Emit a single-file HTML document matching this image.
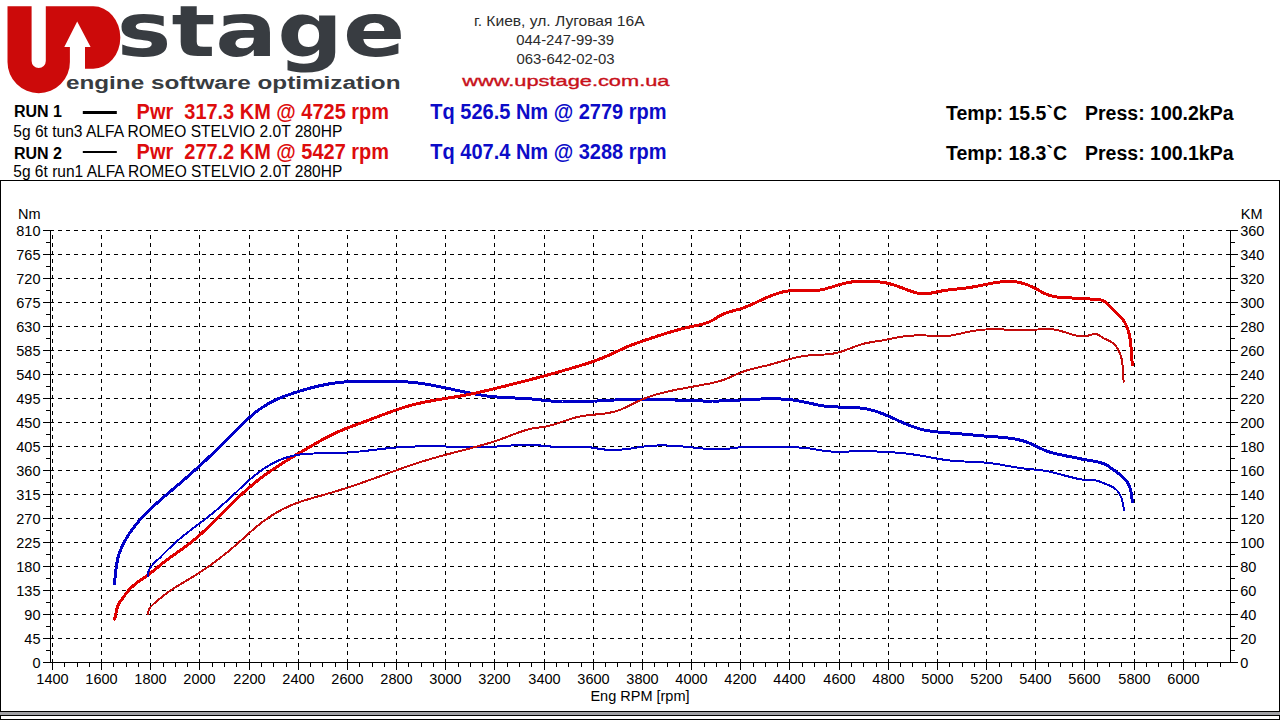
<!DOCTYPE html>
<html><head><meta charset="utf-8"><title>Upstage dyno</title>
<style>
html,body{margin:0;padding:0;background:#fff;width:1280px;height:720px;overflow:hidden}
svg{display:block}
text{font-family:'Liberation Sans', Arial, sans-serif}
</style></head><body>
<svg width="1280" height="720" viewBox="0 0 1280 720">
<rect x="0" y="0" width="1280" height="720" fill="#fff"/>
<g id="logo">
<path fill="#cc0a0a" d="M7.5,6.3 H31.6 V61 A7.1,7.1 0 0 0 45.8,61 V6.3 H93.3 A27,31.2 0 0 1 93.3,68.75 H69.9 V62 A31.2,31.2 0 0 1 7.5,62 Z"/>
<path fill="#fff" d="M77.2,21.4 L64.3,47 H69.9 V70 H85 V47 H90.6 Z"/>
<clipPath id="cs"><rect x="100" y="6.3" width="320" height="80"/></clipPath>
<text clip-path="url(#cs)" x="116.8" y="55.5" font-size="74.6" font-weight="bold" fill="#383c41" style="font-family:'DejaVu Sans',sans-serif" textLength="288.5" lengthAdjust="spacingAndGlyphs">stage</text>
<text x="65.9" y="89" font-size="17.5" font-weight="bold" fill="#383c41" textLength="334.6" lengthAdjust="spacingAndGlyphs">engine software optimization</text>
</g>
<g fill="#2c2c2c" font-size="14.4">
<text x="473.9" y="26.3" textLength="170.7" lengthAdjust="spacingAndGlyphs">г. Киев, ул. Луговая 16А</text>
<text x="516.3" y="44.5" font-size="14.6" textLength="97.7" lengthAdjust="spacingAndGlyphs">044-247-99-39</text>
<text x="516.5" y="64" font-size="14.6" textLength="98" lengthAdjust="spacingAndGlyphs">063-642-02-03</text>
</g>
<text x="462.2" y="86.3" font-size="14.8" fill="#c8101a" stroke="#c8101a" stroke-width="0.35" textLength="207.3" lengthAdjust="spacingAndGlyphs">www.upstage.com.ua</text>
<g font-weight="bold" font-size="16" fill="#000">
<text x="14" y="116.9">RUN 1</text>
<text x="14" y="159.4">RUN 2</text>
</g>
<rect x="82.8" y="111" width="34" height="3" fill="#000"/>
<rect x="82.8" y="151" width="34" height="2" fill="#000"/>
<g font-size="16" fill="#000">
<text x="13.3" y="136.8" textLength="329" lengthAdjust="spacingAndGlyphs">5g 6t tun3 ALFA ROMEO STELVIO 2.0T 280HP</text>
<text x="13.3" y="176.5" textLength="329" lengthAdjust="spacingAndGlyphs">5g 6t run1 ALFA ROMEO STELVIO 2.0T 280HP</text>
</g>
<g font-weight="bold" font-size="21.4" fill="#dd0c0c">
<text x="136.6" y="119.2" textLength="252.4" lengthAdjust="spacingAndGlyphs">Pwr&#160; 317.3 KM @ 4725 rpm</text>
<text x="136.6" y="159.2" textLength="252.4" lengthAdjust="spacingAndGlyphs">Pwr&#160; 277.2 KM @ 5427 rpm</text>
</g>
<g font-weight="bold" font-size="21.4" fill="#0c0cc8">
<text x="430.3" y="119.2" textLength="236.3" lengthAdjust="spacingAndGlyphs">Tq 526.5 Nm @ 2779 rpm</text>
<text x="430.3" y="159.2" textLength="236.3" lengthAdjust="spacingAndGlyphs">Tq 407.4 Nm @ 3288 rpm</text>
</g>
<g font-weight="bold" font-size="19.5" fill="#000">
<text x="946" y="120">Temp: 15.5`C</text>
<text x="1085" y="120">Press: 100.2kPa</text>
<text x="946" y="160">Temp: 18.3`C</text>
<text x="1085" y="160">Press: 100.1kPa</text>
</g>
<g shape-rendering="crispEdges">
<rect x="0" y="180" width="1280" height="1" fill="#000"/>
<rect x="0" y="180" width="1" height="532" fill="#000"/>
<rect x="1279" y="180" width="1" height="540" fill="#000"/>
<rect x="0" y="711" width="1280" height="1" fill="#000"/>
<rect x="0" y="712" width="1280" height="3" fill="#a0a0a4"/>
<rect x="0" y="715" width="1280" height="1" fill="#000"/>
<rect x="0" y="716" width="1" height="3" fill="#000"/>
<rect x="0" y="719" width="1280" height="1" fill="#000"/>
</g>
<g stroke="#000" stroke-width="1" shape-rendering="crispEdges" fill="none">
<line x1="50" y1="230.5" x2="1230" y2="230.5" stroke-dasharray="4 4"/>
<line x1="50" y1="254.5" x2="1230" y2="254.5" stroke-dasharray="4 4"/>
<line x1="50" y1="278.5" x2="1230" y2="278.5" stroke-dasharray="4 4"/>
<line x1="50" y1="302.5" x2="1230" y2="302.5" stroke-dasharray="4 4"/>
<line x1="50" y1="326.5" x2="1230" y2="326.5" stroke-dasharray="4 4"/>
<line x1="50" y1="350.5" x2="1230" y2="350.5" stroke-dasharray="4 4"/>
<line x1="50" y1="374.5" x2="1230" y2="374.5" stroke-dasharray="4 4"/>
<line x1="50" y1="398.5" x2="1230" y2="398.5" stroke-dasharray="4 4"/>
<line x1="50" y1="422.5" x2="1230" y2="422.5" stroke-dasharray="4 4"/>
<line x1="50" y1="446.5" x2="1230" y2="446.5" stroke-dasharray="4 4"/>
<line x1="50" y1="470.5" x2="1230" y2="470.5" stroke-dasharray="4 4"/>
<line x1="50" y1="494.5" x2="1230" y2="494.5" stroke-dasharray="4 4"/>
<line x1="50" y1="518.5" x2="1230" y2="518.5" stroke-dasharray="4 4"/>
<line x1="50" y1="542.5" x2="1230" y2="542.5" stroke-dasharray="4 4"/>
<line x1="50" y1="566.5" x2="1230" y2="566.5" stroke-dasharray="4 4"/>
<line x1="50" y1="590.5" x2="1230" y2="590.5" stroke-dasharray="4 4"/>
<line x1="50" y1="614.5" x2="1230" y2="614.5" stroke-dasharray="4 4"/>
<line x1="50" y1="638.5" x2="1230" y2="638.5" stroke-dasharray="4 4"/>
<line x1="52.5" y1="663" x2="52.5" y2="230" stroke-dasharray="4 4"/>
<line x1="101.5" y1="663" x2="101.5" y2="230" stroke-dasharray="4 4"/>
<line x1="150.5" y1="663" x2="150.5" y2="230" stroke-dasharray="4 4"/>
<line x1="199.5" y1="663" x2="199.5" y2="230" stroke-dasharray="4 4"/>
<line x1="249.5" y1="663" x2="249.5" y2="230" stroke-dasharray="4 4"/>
<line x1="298.5" y1="663" x2="298.5" y2="230" stroke-dasharray="4 4"/>
<line x1="347.5" y1="663" x2="347.5" y2="230" stroke-dasharray="4 4"/>
<line x1="396.5" y1="663" x2="396.5" y2="230" stroke-dasharray="4 4"/>
<line x1="445.5" y1="663" x2="445.5" y2="230" stroke-dasharray="4 4"/>
<line x1="494.5" y1="663" x2="494.5" y2="230" stroke-dasharray="4 4"/>
<line x1="544.5" y1="663" x2="544.5" y2="230" stroke-dasharray="4 4"/>
<line x1="593.5" y1="663" x2="593.5" y2="230" stroke-dasharray="4 4"/>
<line x1="642.5" y1="663" x2="642.5" y2="230" stroke-dasharray="4 4"/>
<line x1="691.5" y1="663" x2="691.5" y2="230" stroke-dasharray="4 4"/>
<line x1="740.5" y1="663" x2="740.5" y2="230" stroke-dasharray="4 4"/>
<line x1="789.5" y1="663" x2="789.5" y2="230" stroke-dasharray="4 4"/>
<line x1="839.5" y1="663" x2="839.5" y2="230" stroke-dasharray="4 4"/>
<line x1="888.5" y1="663" x2="888.5" y2="230" stroke-dasharray="4 4"/>
<line x1="937.5" y1="663" x2="937.5" y2="230" stroke-dasharray="4 4"/>
<line x1="986.5" y1="663" x2="986.5" y2="230" stroke-dasharray="4 4"/>
<line x1="1035.5" y1="663" x2="1035.5" y2="230" stroke-dasharray="4 4"/>
<line x1="1084.5" y1="663" x2="1084.5" y2="230" stroke-dasharray="4 4"/>
<line x1="1134.5" y1="663" x2="1134.5" y2="230" stroke-dasharray="4 4"/>
<line x1="1183.5" y1="663" x2="1183.5" y2="230" stroke-dasharray="4 4"/>
<line x1="50.5" y1="230" x2="50.5" y2="663"/>
<line x1="1230.5" y1="230" x2="1230.5" y2="663"/>
<line x1="43" y1="662.5" x2="1238" y2="662.5"/>
<line x1="43" y1="230.5" x2="50" y2="230.5"/>
<line x1="1231" y1="230.5" x2="1238" y2="230.5"/>
<line x1="43" y1="254.5" x2="50" y2="254.5"/>
<line x1="1231" y1="254.5" x2="1238" y2="254.5"/>
<line x1="43" y1="278.5" x2="50" y2="278.5"/>
<line x1="1231" y1="278.5" x2="1238" y2="278.5"/>
<line x1="43" y1="302.5" x2="50" y2="302.5"/>
<line x1="1231" y1="302.5" x2="1238" y2="302.5"/>
<line x1="43" y1="326.5" x2="50" y2="326.5"/>
<line x1="1231" y1="326.5" x2="1238" y2="326.5"/>
<line x1="43" y1="350.5" x2="50" y2="350.5"/>
<line x1="1231" y1="350.5" x2="1238" y2="350.5"/>
<line x1="43" y1="374.5" x2="50" y2="374.5"/>
<line x1="1231" y1="374.5" x2="1238" y2="374.5"/>
<line x1="43" y1="398.5" x2="50" y2="398.5"/>
<line x1="1231" y1="398.5" x2="1238" y2="398.5"/>
<line x1="43" y1="422.5" x2="50" y2="422.5"/>
<line x1="1231" y1="422.5" x2="1238" y2="422.5"/>
<line x1="43" y1="446.5" x2="50" y2="446.5"/>
<line x1="1231" y1="446.5" x2="1238" y2="446.5"/>
<line x1="43" y1="470.5" x2="50" y2="470.5"/>
<line x1="1231" y1="470.5" x2="1238" y2="470.5"/>
<line x1="43" y1="494.5" x2="50" y2="494.5"/>
<line x1="1231" y1="494.5" x2="1238" y2="494.5"/>
<line x1="43" y1="518.5" x2="50" y2="518.5"/>
<line x1="1231" y1="518.5" x2="1238" y2="518.5"/>
<line x1="43" y1="542.5" x2="50" y2="542.5"/>
<line x1="1231" y1="542.5" x2="1238" y2="542.5"/>
<line x1="43" y1="566.5" x2="50" y2="566.5"/>
<line x1="1231" y1="566.5" x2="1238" y2="566.5"/>
<line x1="43" y1="590.5" x2="50" y2="590.5"/>
<line x1="1231" y1="590.5" x2="1238" y2="590.5"/>
<line x1="43" y1="614.5" x2="50" y2="614.5"/>
<line x1="1231" y1="614.5" x2="1238" y2="614.5"/>
<line x1="43" y1="638.5" x2="50" y2="638.5"/>
<line x1="1231" y1="638.5" x2="1238" y2="638.5"/>
<line x1="43" y1="662.5" x2="50" y2="662.5"/>
<line x1="1231" y1="662.5" x2="1238" y2="662.5"/>
<line x1="46" y1="242.5" x2="50" y2="242.5"/>
<line x1="1231" y1="242.5" x2="1235" y2="242.5"/>
<line x1="46" y1="266.5" x2="50" y2="266.5"/>
<line x1="1231" y1="266.5" x2="1235" y2="266.5"/>
<line x1="46" y1="290.5" x2="50" y2="290.5"/>
<line x1="1231" y1="290.5" x2="1235" y2="290.5"/>
<line x1="46" y1="314.5" x2="50" y2="314.5"/>
<line x1="1231" y1="314.5" x2="1235" y2="314.5"/>
<line x1="46" y1="338.5" x2="50" y2="338.5"/>
<line x1="1231" y1="338.5" x2="1235" y2="338.5"/>
<line x1="46" y1="362.5" x2="50" y2="362.5"/>
<line x1="1231" y1="362.5" x2="1235" y2="362.5"/>
<line x1="46" y1="386.5" x2="50" y2="386.5"/>
<line x1="1231" y1="386.5" x2="1235" y2="386.5"/>
<line x1="46" y1="410.5" x2="50" y2="410.5"/>
<line x1="1231" y1="410.5" x2="1235" y2="410.5"/>
<line x1="46" y1="434.5" x2="50" y2="434.5"/>
<line x1="1231" y1="434.5" x2="1235" y2="434.5"/>
<line x1="46" y1="458.5" x2="50" y2="458.5"/>
<line x1="1231" y1="458.5" x2="1235" y2="458.5"/>
<line x1="46" y1="482.5" x2="50" y2="482.5"/>
<line x1="1231" y1="482.5" x2="1235" y2="482.5"/>
<line x1="46" y1="506.5" x2="50" y2="506.5"/>
<line x1="1231" y1="506.5" x2="1235" y2="506.5"/>
<line x1="46" y1="530.5" x2="50" y2="530.5"/>
<line x1="1231" y1="530.5" x2="1235" y2="530.5"/>
<line x1="46" y1="554.5" x2="50" y2="554.5"/>
<line x1="1231" y1="554.5" x2="1235" y2="554.5"/>
<line x1="46" y1="578.5" x2="50" y2="578.5"/>
<line x1="1231" y1="578.5" x2="1235" y2="578.5"/>
<line x1="46" y1="602.5" x2="50" y2="602.5"/>
<line x1="1231" y1="602.5" x2="1235" y2="602.5"/>
<line x1="46" y1="626.5" x2="50" y2="626.5"/>
<line x1="1231" y1="626.5" x2="1235" y2="626.5"/>
<line x1="46" y1="650.5" x2="50" y2="650.5"/>
<line x1="1231" y1="650.5" x2="1235" y2="650.5"/>
<line x1="52.5" y1="663" x2="52.5" y2="670"/>
<line x1="101.5" y1="663" x2="101.5" y2="670"/>
<line x1="150.5" y1="663" x2="150.5" y2="670"/>
<line x1="199.5" y1="663" x2="199.5" y2="670"/>
<line x1="249.5" y1="663" x2="249.5" y2="670"/>
<line x1="298.5" y1="663" x2="298.5" y2="670"/>
<line x1="347.5" y1="663" x2="347.5" y2="670"/>
<line x1="396.5" y1="663" x2="396.5" y2="670"/>
<line x1="445.5" y1="663" x2="445.5" y2="670"/>
<line x1="494.5" y1="663" x2="494.5" y2="670"/>
<line x1="544.5" y1="663" x2="544.5" y2="670"/>
<line x1="593.5" y1="663" x2="593.5" y2="670"/>
<line x1="642.5" y1="663" x2="642.5" y2="670"/>
<line x1="691.5" y1="663" x2="691.5" y2="670"/>
<line x1="740.5" y1="663" x2="740.5" y2="670"/>
<line x1="789.5" y1="663" x2="789.5" y2="670"/>
<line x1="839.5" y1="663" x2="839.5" y2="670"/>
<line x1="888.5" y1="663" x2="888.5" y2="670"/>
<line x1="937.5" y1="663" x2="937.5" y2="670"/>
<line x1="986.5" y1="663" x2="986.5" y2="670"/>
<line x1="1035.5" y1="663" x2="1035.5" y2="670"/>
<line x1="1084.5" y1="663" x2="1084.5" y2="670"/>
<line x1="1134.5" y1="663" x2="1134.5" y2="670"/>
<line x1="1183.5" y1="663" x2="1183.5" y2="670"/>
<line x1="64.5" y1="663" x2="64.5" y2="667"/>
<line x1="77.5" y1="663" x2="77.5" y2="667"/>
<line x1="89.5" y1="663" x2="89.5" y2="667"/>
<line x1="113.5" y1="663" x2="113.5" y2="667"/>
<line x1="126.5" y1="663" x2="126.5" y2="667"/>
<line x1="138.5" y1="663" x2="138.5" y2="667"/>
<line x1="163.5" y1="663" x2="163.5" y2="667"/>
<line x1="175.5" y1="663" x2="175.5" y2="667"/>
<line x1="187.5" y1="663" x2="187.5" y2="667"/>
<line x1="212.5" y1="663" x2="212.5" y2="667"/>
<line x1="224.5" y1="663" x2="224.5" y2="667"/>
<line x1="236.5" y1="663" x2="236.5" y2="667"/>
<line x1="261.5" y1="663" x2="261.5" y2="667"/>
<line x1="273.5" y1="663" x2="273.5" y2="667"/>
<line x1="286.5" y1="663" x2="286.5" y2="667"/>
<line x1="310.5" y1="663" x2="310.5" y2="667"/>
<line x1="322.5" y1="663" x2="322.5" y2="667"/>
<line x1="335.5" y1="663" x2="335.5" y2="667"/>
<line x1="359.5" y1="663" x2="359.5" y2="667"/>
<line x1="372.5" y1="663" x2="372.5" y2="667"/>
<line x1="384.5" y1="663" x2="384.5" y2="667"/>
<line x1="408.5" y1="663" x2="408.5" y2="667"/>
<line x1="421.5" y1="663" x2="421.5" y2="667"/>
<line x1="433.5" y1="663" x2="433.5" y2="667"/>
<line x1="458.5" y1="663" x2="458.5" y2="667"/>
<line x1="470.5" y1="663" x2="470.5" y2="667"/>
<line x1="482.5" y1="663" x2="482.5" y2="667"/>
<line x1="507.5" y1="663" x2="507.5" y2="667"/>
<line x1="519.5" y1="663" x2="519.5" y2="667"/>
<line x1="531.5" y1="663" x2="531.5" y2="667"/>
<line x1="556.5" y1="663" x2="556.5" y2="667"/>
<line x1="568.5" y1="663" x2="568.5" y2="667"/>
<line x1="581.5" y1="663" x2="581.5" y2="667"/>
<line x1="605.5" y1="663" x2="605.5" y2="667"/>
<line x1="617.5" y1="663" x2="617.5" y2="667"/>
<line x1="630.5" y1="663" x2="630.5" y2="667"/>
<line x1="654.5" y1="663" x2="654.5" y2="667"/>
<line x1="667.5" y1="663" x2="667.5" y2="667"/>
<line x1="679.5" y1="663" x2="679.5" y2="667"/>
<line x1="704.5" y1="663" x2="704.5" y2="667"/>
<line x1="716.5" y1="663" x2="716.5" y2="667"/>
<line x1="728.5" y1="663" x2="728.5" y2="667"/>
<line x1="753.5" y1="663" x2="753.5" y2="667"/>
<line x1="765.5" y1="663" x2="765.5" y2="667"/>
<line x1="777.5" y1="663" x2="777.5" y2="667"/>
<line x1="802.5" y1="663" x2="802.5" y2="667"/>
<line x1="814.5" y1="663" x2="814.5" y2="667"/>
<line x1="826.5" y1="663" x2="826.5" y2="667"/>
<line x1="851.5" y1="663" x2="851.5" y2="667"/>
<line x1="863.5" y1="663" x2="863.5" y2="667"/>
<line x1="876.5" y1="663" x2="876.5" y2="667"/>
<line x1="900.5" y1="663" x2="900.5" y2="667"/>
<line x1="912.5" y1="663" x2="912.5" y2="667"/>
<line x1="925.5" y1="663" x2="925.5" y2="667"/>
<line x1="949.5" y1="663" x2="949.5" y2="667"/>
<line x1="962.5" y1="663" x2="962.5" y2="667"/>
<line x1="974.5" y1="663" x2="974.5" y2="667"/>
<line x1="999.5" y1="663" x2="999.5" y2="667"/>
<line x1="1011.5" y1="663" x2="1011.5" y2="667"/>
<line x1="1023.5" y1="663" x2="1023.5" y2="667"/>
<line x1="1048.5" y1="663" x2="1048.5" y2="667"/>
<line x1="1060.5" y1="663" x2="1060.5" y2="667"/>
<line x1="1072.5" y1="663" x2="1072.5" y2="667"/>
<line x1="1097.5" y1="663" x2="1097.5" y2="667"/>
<line x1="1109.5" y1="663" x2="1109.5" y2="667"/>
<line x1="1121.5" y1="663" x2="1121.5" y2="667"/>
<line x1="1146.5" y1="663" x2="1146.5" y2="667"/>
<line x1="1158.5" y1="663" x2="1158.5" y2="667"/>
<line x1="1171.5" y1="663" x2="1171.5" y2="667"/>
<line x1="1195.5" y1="663" x2="1195.5" y2="667"/>
<line x1="1207.5" y1="663" x2="1207.5" y2="667"/>
<line x1="1220.5" y1="663" x2="1220.5" y2="667"/>
</g>
<g font-size="14.5" fill="#000">
<text x="18" y="218.7">Nm</text>
<text x="1240.8" y="218.7">KM</text>
<text x="40.5" y="235.6" text-anchor="end">810</text>
<text x="1240.2" y="235.6">360</text>
<text x="40.5" y="259.6" text-anchor="end">765</text>
<text x="1240.2" y="259.6">340</text>
<text x="40.5" y="283.6" text-anchor="end">720</text>
<text x="1240.2" y="283.6">320</text>
<text x="40.5" y="307.6" text-anchor="end">675</text>
<text x="1240.2" y="307.6">300</text>
<text x="40.5" y="331.6" text-anchor="end">630</text>
<text x="1240.2" y="331.6">280</text>
<text x="40.5" y="355.6" text-anchor="end">585</text>
<text x="1240.2" y="355.6">260</text>
<text x="40.5" y="379.6" text-anchor="end">540</text>
<text x="1240.2" y="379.6">240</text>
<text x="40.5" y="403.6" text-anchor="end">495</text>
<text x="1240.2" y="403.6">220</text>
<text x="40.5" y="427.6" text-anchor="end">450</text>
<text x="1240.2" y="427.6">200</text>
<text x="40.5" y="451.6" text-anchor="end">405</text>
<text x="1240.2" y="451.6">180</text>
<text x="40.5" y="475.6" text-anchor="end">360</text>
<text x="1240.2" y="475.6">160</text>
<text x="40.5" y="499.6" text-anchor="end">315</text>
<text x="1240.2" y="499.6">140</text>
<text x="40.5" y="523.6" text-anchor="end">270</text>
<text x="1240.2" y="523.6">120</text>
<text x="40.5" y="547.6" text-anchor="end">225</text>
<text x="1240.2" y="547.6">100</text>
<text x="40.5" y="571.6" text-anchor="end">180</text>
<text x="1240.2" y="571.6">80</text>
<text x="40.5" y="595.6" text-anchor="end">135</text>
<text x="1240.2" y="595.6">60</text>
<text x="40.5" y="619.6" text-anchor="end">90</text>
<text x="1240.2" y="619.6">40</text>
<text x="40.5" y="643.6" text-anchor="end">45</text>
<text x="1240.2" y="643.6">20</text>
<text x="40.5" y="667.6" text-anchor="end">0</text>
<text x="1240.2" y="667.6">0</text>
<text x="52.5" y="683.6" text-anchor="middle">1400</text>
<text x="101.5" y="683.6" text-anchor="middle">1600</text>
<text x="150.5" y="683.6" text-anchor="middle">1800</text>
<text x="199.5" y="683.6" text-anchor="middle">2000</text>
<text x="249.5" y="683.6" text-anchor="middle">2200</text>
<text x="298.5" y="683.6" text-anchor="middle">2400</text>
<text x="347.5" y="683.6" text-anchor="middle">2600</text>
<text x="396.5" y="683.6" text-anchor="middle">2800</text>
<text x="445.5" y="683.6" text-anchor="middle">3000</text>
<text x="494.5" y="683.6" text-anchor="middle">3200</text>
<text x="544.5" y="683.6" text-anchor="middle">3400</text>
<text x="593.5" y="683.6" text-anchor="middle">3600</text>
<text x="642.5" y="683.6" text-anchor="middle">3800</text>
<text x="691.5" y="683.6" text-anchor="middle">4000</text>
<text x="740.5" y="683.6" text-anchor="middle">4200</text>
<text x="789.5" y="683.6" text-anchor="middle">4400</text>
<text x="839.5" y="683.6" text-anchor="middle">4600</text>
<text x="888.5" y="683.6" text-anchor="middle">4800</text>
<text x="937.5" y="683.6" text-anchor="middle">5000</text>
<text x="986.5" y="683.6" text-anchor="middle">5200</text>
<text x="1035.5" y="683.6" text-anchor="middle">5400</text>
<text x="1084.5" y="683.6" text-anchor="middle">5600</text>
<text x="1134.5" y="683.6" text-anchor="middle">5800</text>
<text x="1183.5" y="683.6" text-anchor="middle">6000</text>
<text x="640" y="701" text-anchor="middle">Eng RPM [rpm]</text>
</g>
<g fill="none" stroke-linejoin="round" stroke-linecap="round" shape-rendering="crispEdges"><path d="M114.6,583.5 L114.8,581.5 L114.9,579.5 L115.1,577.5 L115.3,575.5 L115.5,573.5 L115.7,571.5 L115.9,569.5 L116.2,567.5 L116.5,565.6 L116.8,563.6 L117.2,561.6 L117.6,559.7 L118.0,557.7 L118.6,555.8 L119.1,553.9 L119.8,552.0 L120.5,550.1 L121.3,548.2 L122.1,546.4 L122.9,544.6 L123.8,542.8 L124.8,541.0 L125.8,539.3 L126.8,537.6 L127.8,535.9 L128.9,534.2 L130.0,532.5 L131.2,530.9 L132.4,529.3 L133.6,527.7 L134.8,526.1 L136.0,524.5 L137.3,523.0 L138.6,521.4 L139.9,519.9 L141.3,518.4 L142.6,517.0 L144.0,515.5 L145.4,514.1 L146.8,512.7 L148.2,511.2 L149.7,509.8 L151.1,508.5 L152.6,507.1 L154.0,505.7 L155.5,504.4 L157.0,503.0 L158.5,501.7 L160.0,500.4 L161.5,499.0 L163.0,497.7 L164.5,496.4 L166.0,495.1 L167.6,493.8 L169.1,492.5 L170.6,491.2 L172.1,489.9 L173.7,488.6 L175.2,487.3 L176.7,486.0 L178.2,484.7 L179.8,483.4 L181.3,482.1 L182.8,480.8 L184.3,479.5 L185.8,478.2 L187.3,476.9 L188.8,475.5 L190.3,474.2 L191.8,472.9 L193.3,471.5 L194.8,470.2 L196.3,468.9 L197.8,467.5 L199.3,466.2 L200.7,464.8 L202.2,463.5 L203.7,462.1 L205.2,460.7 L206.6,459.4 L208.1,458.0 L209.5,456.6 L211.0,455.3 L212.5,453.9 L213.9,452.5 L215.3,451.1 L216.8,449.7 L218.2,448.3 L219.7,446.9 L221.1,445.5 L222.5,444.1 L223.9,442.7 L225.3,441.3 L226.8,439.8 L228.2,438.4 L229.6,437.0 L231.0,435.6 L232.4,434.1 L233.8,432.7 L235.2,431.3 L236.6,429.8 L238.0,428.4 L239.4,427.0 L240.8,425.6 L242.3,424.2 L243.7,422.8 L245.2,421.4 L246.6,420.1 L248.1,418.7 L249.6,417.4 L251.1,416.1 L252.6,414.8 L254.2,413.5 L255.7,412.2 L257.3,411.0 L258.9,409.8 L260.6,408.6 L262.2,407.5 L263.9,406.4 L265.6,405.4 L267.3,404.3 L269.1,403.3 L270.8,402.4 L272.6,401.5 L274.4,400.6 L276.2,399.7 L278.0,398.9 L279.9,398.1 L281.7,397.4 L283.6,396.6 L285.5,395.9 L287.3,395.2 L289.2,394.5 L291.1,393.9 L293.0,393.2 L294.9,392.6 L296.8,392.0 L298.7,391.4 L300.7,390.8 L302.6,390.2 L304.5,389.7 L306.4,389.1 L308.3,388.6 L310.3,388.1 L312.2,387.6 L314.2,387.1 L316.1,386.6 L318.1,386.1 L320.0,385.7 L322.0,385.3 L323.9,384.9 L325.9,384.5 L327.9,384.1 L329.8,383.8 L331.8,383.5 L333.8,383.1 L335.8,382.9 L337.8,382.6 L339.8,382.4 L341.7,382.2 L343.7,382.0 L345.7,381.8 L347.7,381.7 L349.7,381.5 L351.7,381.4 L353.7,381.3 L355.7,381.3 L357.7,381.2 L359.7,381.2 L361.7,381.1 L363.7,381.1 L365.8,381.1 L367.8,381.1 L369.8,381.1 L371.8,381.1 L373.8,381.1 L375.8,381.1 L377.8,381.2 L379.8,381.2 L381.8,381.2 L383.8,381.2 L385.8,381.2 L387.8,381.3 L389.8,381.3 L391.8,381.3 L393.8,381.4 L395.8,381.4 L397.8,381.5 L399.8,381.6 L401.8,381.6 L403.8,381.7 L405.8,381.9 L407.8,382.0 L409.8,382.1 L411.8,382.3 L413.8,382.5 L415.8,382.7 L417.8,383.0 L419.8,383.2 L421.7,383.5 L423.7,383.8 L425.7,384.1 L427.7,384.4 L429.6,384.8 L431.6,385.1 L433.6,385.5 L435.6,385.9 L437.5,386.3 L439.5,386.7 L441.4,387.1 L443.4,387.5 L445.4,387.9 L447.3,388.3 L449.3,388.7 L451.2,389.1 L453.2,389.6 L455.2,390.0 L457.1,390.4 L459.1,390.8 L461.0,391.3 L463.0,391.7 L465.0,392.1 L466.9,392.5 L468.9,392.9 L470.8,393.3 L472.8,393.6 L474.8,394.0 L476.8,394.4 L478.7,394.7 L480.7,395.0 L482.7,395.3 L484.7,395.6 L486.6,395.9 L488.6,396.2 L490.6,396.4 L492.6,396.6 L494.6,396.8 L496.6,397.0 L498.6,397.2 L500.6,397.3 L502.6,397.4 L504.6,397.5 L506.6,397.6 L508.6,397.7 L510.6,397.8 L512.6,397.9 L514.6,398.0 L516.6,398.1 L518.6,398.1 L520.6,398.2 L522.6,398.4 L524.6,398.5 L526.6,398.6 L528.6,398.8 L530.6,398.9 L532.6,399.1 L534.6,399.3 L536.6,399.6 L538.6,399.8 L540.6,400.0 L542.5,400.2 L544.5,400.4 L546.5,400.6 L548.5,400.8 L550.5,401.0 L552.5,401.1 L554.5,401.2 L556.5,401.3 L558.5,401.4 L560.5,401.5 L562.5,401.6 L564.5,401.6 L566.5,401.6 L568.5,401.6 L570.5,401.7 L572.5,401.7 L574.5,401.6 L576.5,401.6 L578.6,401.6 L580.6,401.5 L582.6,401.5 L584.6,401.4 L586.6,401.4 L588.6,401.3 L590.6,401.2 L592.6,401.1 L594.6,401.0 L596.6,401.0 L598.6,400.9 L600.6,400.8 L602.6,400.7 L604.6,400.6 L606.6,400.5 L608.6,400.3 L610.6,400.2 L612.6,400.1 L614.6,400.0 L616.6,399.9 L618.6,399.8 L620.6,399.8 L622.6,399.7 L624.6,399.6 L626.6,399.5 L628.6,399.4 L630.6,399.4 L632.6,399.3 L634.6,399.3 L636.6,399.2 L638.6,399.2 L640.6,399.2 L642.6,399.1 L644.6,399.1 L646.6,399.1 L648.6,399.2 L650.6,399.2 L652.6,399.2 L654.6,399.3 L656.6,399.3 L658.6,399.4 L660.6,399.4 L662.6,399.5 L664.6,399.6 L666.6,399.6 L668.6,399.7 L670.6,399.8 L672.6,399.9 L674.6,400.0 L676.6,400.1 L678.6,400.1 L680.6,400.2 L682.6,400.3 L684.6,400.4 L686.6,400.5 L688.6,400.6 L690.6,400.6 L692.7,400.7 L694.7,400.8 L696.7,400.8 L698.7,400.9 L700.7,400.9 L702.7,401.0 L704.7,401.0 L706.7,401.0 L708.7,401.0 L710.7,401.1 L712.7,401.0 L714.7,401.0 L716.7,401.0 L718.7,401.0 L720.7,400.9 L722.7,400.9 L724.7,400.8 L726.7,400.7 L728.7,400.6 L730.7,400.5 L732.7,400.4 L734.7,400.3 L736.7,400.2 L738.7,400.1 L740.7,400.0 L742.7,399.9 L744.7,399.8 L746.7,399.7 L748.7,399.5 L750.7,399.4 L752.7,399.3 L754.7,399.2 L756.7,399.2 L758.7,399.1 L760.7,399.0 L762.7,398.9 L764.7,398.9 L766.7,398.9 L768.7,398.8 L770.7,398.8 L772.7,398.8 L774.7,398.8 L776.7,398.9 L778.7,398.9 L780.7,399.0 L782.7,399.1 L784.7,399.2 L786.7,399.3 L788.7,399.5 L790.7,399.7 L792.7,400.0 L794.7,400.2 L796.7,400.5 L798.6,400.9 L800.6,401.3 L802.6,401.7 L804.5,402.1 L806.5,402.5 L808.4,402.9 L810.4,403.4 L812.4,403.8 L814.3,404.2 L816.3,404.6 L818.2,405.0 L820.2,405.4 L822.2,405.7 L824.2,406.0 L826.2,406.2 L828.2,406.4 L830.2,406.6 L832.2,406.7 L834.2,406.8 L836.2,406.9 L838.2,407.0 L840.2,407.0 L842.2,407.1 L844.2,407.1 L846.2,407.2 L848.2,407.2 L850.2,407.3 L852.2,407.4 L854.2,407.5 L856.2,407.6 L858.2,407.8 L860.2,408.0 L862.2,408.2 L864.1,408.5 L866.1,408.8 L868.1,409.2 L870.0,409.7 L872.0,410.2 L873.9,410.7 L875.8,411.3 L877.7,411.9 L879.6,412.6 L881.5,413.3 L883.3,414.0 L885.2,414.8 L887.0,415.6 L888.9,416.4 L890.7,417.2 L892.5,418.0 L894.4,418.8 L896.2,419.6 L898.0,420.5 L899.8,421.3 L901.7,422.1 L903.5,422.9 L905.3,423.7 L907.2,424.5 L909.1,425.2 L910.9,426.0 L912.8,426.7 L914.7,427.3 L916.6,427.9 L918.5,428.5 L920.4,429.1 L922.4,429.5 L924.3,430.0 L926.3,430.4 L928.3,430.7 L930.2,431.0 L932.2,431.3 L934.2,431.6 L936.2,431.8 L938.2,432.0 L940.2,432.2 L942.2,432.3 L944.2,432.5 L946.2,432.7 L948.2,432.8 L950.2,433.0 L952.2,433.1 L954.2,433.3 L956.2,433.4 L958.2,433.6 L960.2,433.8 L962.2,434.0 L964.2,434.2 L966.1,434.3 L968.1,434.5 L970.1,434.7 L972.1,434.9 L974.1,435.1 L976.1,435.3 L978.1,435.4 L980.1,435.6 L982.1,435.8 L984.1,436.0 L986.1,436.1 L988.1,436.3 L990.1,436.5 L992.1,436.6 L994.1,436.8 L996.1,436.9 L998.1,437.0 L1000.1,437.2 L1002.1,437.4 L1004.1,437.6 L1006.1,437.8 L1008.1,438.0 L1010.0,438.3 L1012.0,438.5 L1014.0,438.9 L1016.0,439.2 L1017.9,439.6 L1019.9,440.1 L1021.8,440.6 L1023.7,441.1 L1025.7,441.7 L1027.5,442.4 L1029.4,443.1 L1031.2,443.9 L1033.1,444.8 L1034.9,445.6 L1036.7,446.5 L1038.5,447.4 L1040.3,448.3 L1042.1,449.1 L1043.9,449.9 L1045.8,450.7 L1047.6,451.4 L1049.5,452.0 L1051.5,452.6 L1053.4,453.2 L1055.3,453.6 L1057.3,454.1 L1059.2,454.5 L1061.2,454.9 L1063.2,455.3 L1065.1,455.7 L1067.1,456.1 L1069.1,456.4 L1071.0,456.8 L1073.0,457.2 L1075.0,457.6 L1076.9,458.0 L1078.9,458.4 L1080.8,458.9 L1082.8,459.2 L1084.8,459.6 L1086.8,460.0 L1088.7,460.3 L1090.7,460.6 L1092.7,460.9 L1094.7,461.3 L1096.6,461.7 L1098.6,462.1 L1100.5,462.6 L1102.4,463.3 L1104.3,464.0 L1106.1,464.9 L1107.8,465.8 L1109.5,466.9 L1111.1,468.1 L1112.8,469.3 L1114.4,470.5 L1116.0,471.6 L1117.6,472.8 L1119.2,474.0 L1120.8,475.3 L1122.3,476.6 L1123.7,478.0 L1125.1,479.4 L1126.4,481.0 L1127.5,482.6 L1128.5,484.4 L1129.3,486.2 L1130.0,488.1 L1130.5,490.0 L1131.0,492.0 L1131.3,494.0 L1131.6,495.9 L1131.9,497.9 L1132.1,499.9 L1132.4,501.9" stroke="#0000c8" stroke-width="3"/><path d="M114.5,619.1 L115.1,617.2 L115.5,615.2 L115.9,613.3 L116.3,611.3 L116.8,609.4 L117.3,607.4 L118.0,605.6 L118.9,603.8 L119.9,602.0 L121.0,600.4 L122.2,598.8 L123.4,597.2 L124.6,595.6 L125.8,593.9 L127.0,592.3 L128.2,590.8 L129.5,589.3 L130.9,587.8 L132.4,586.5 L133.9,585.2 L135.5,583.9 L137.0,582.7 L138.7,581.5 L140.3,580.3 L141.9,579.2 L143.6,578.1 L145.2,576.9 L146.8,575.8 L148.5,574.6 L150.1,573.4 L151.6,572.1 L153.2,570.9 L154.8,569.6 L156.3,568.4 L157.9,567.1 L159.4,565.9 L161.0,564.6 L162.5,563.3 L164.1,562.1 L165.7,560.9 L167.3,559.7 L168.9,558.5 L170.5,557.3 L172.1,556.1 L173.8,555.0 L175.4,553.8 L177.0,552.7 L178.7,551.5 L180.3,550.4 L181.9,549.2 L183.5,548.0 L185.2,546.8 L186.8,545.7 L188.4,544.4 L189.9,543.2 L191.5,542.0 L193.1,540.7 L194.6,539.5 L196.1,538.2 L197.7,536.9 L199.2,535.6 L200.7,534.2 L202.2,532.9 L203.6,531.5 L205.1,530.2 L206.6,528.8 L208.0,527.4 L209.5,526.1 L210.9,524.7 L212.3,523.3 L213.8,521.9 L215.2,520.5 L216.6,519.1 L218.0,517.6 L219.4,516.2 L220.9,514.8 L222.3,513.4 L223.7,512.0 L225.1,510.6 L226.5,509.1 L227.9,507.7 L229.3,506.3 L230.7,504.9 L232.2,503.5 L233.6,502.1 L235.0,500.7 L236.4,499.3 L237.9,497.9 L239.3,496.5 L240.8,495.1 L242.2,493.8 L243.7,492.4 L245.2,491.1 L246.7,489.7 L248.2,488.4 L249.7,487.1 L251.2,485.8 L252.7,484.5 L254.3,483.2 L255.8,482.0 L257.4,480.7 L259.0,479.5 L260.6,478.3 L262.2,477.1 L263.8,475.9 L265.4,474.7 L267.0,473.5 L268.6,472.4 L270.3,471.2 L271.9,470.1 L273.6,469.0 L275.3,467.9 L276.9,466.8 L278.6,465.7 L280.3,464.6 L282.0,463.5 L283.7,462.4 L285.4,461.4 L287.1,460.3 L288.8,459.3 L290.5,458.2 L292.2,457.2 L293.9,456.2 L295.6,455.1 L297.3,454.1 L299.1,453.1 L300.8,452.1 L302.5,451.1 L304.2,450.1 L306.0,449.1 L307.7,448.1 L309.4,447.1 L311.2,446.1 L312.9,445.1 L314.6,444.1 L316.4,443.1 L318.1,442.1 L319.9,441.1 L321.6,440.1 L323.4,439.2 L325.1,438.2 L326.9,437.3 L328.7,436.3 L330.4,435.4 L332.2,434.5 L334.0,433.7 L335.8,432.8 L337.7,432.0 L339.5,431.2 L341.3,430.4 L343.2,429.6 L345.0,428.9 L346.9,428.2 L348.8,427.5 L350.7,426.8 L352.5,426.1 L354.4,425.4 L356.3,424.7 L358.2,424.0 L360.1,423.3 L361.9,422.7 L363.8,422.0 L365.7,421.3 L367.5,420.5 L369.4,419.8 L371.3,419.1 L373.2,418.4 L375.0,417.7 L376.9,417.0 L378.8,416.3 L380.6,415.6 L382.5,414.9 L384.4,414.2 L386.3,413.5 L388.1,412.8 L390.0,412.1 L391.9,411.4 L393.8,410.8 L395.7,410.1 L397.6,409.5 L399.5,408.8 L401.4,408.2 L403.3,407.6 L405.2,407.0 L407.1,406.4 L409.0,405.9 L411.0,405.3 L412.9,404.8 L414.8,404.3 L416.8,403.8 L418.7,403.4 L420.7,403.0 L422.6,402.5 L424.6,402.1 L426.6,401.7 L428.5,401.4 L430.5,401.0 L432.5,400.6 L434.4,400.3 L436.4,400.0 L438.4,399.6 L440.3,399.3 L442.3,399.0 L444.3,398.7 L446.3,398.4 L448.2,398.0 L450.2,397.7 L452.2,397.4 L454.2,397.1 L456.1,396.7 L458.1,396.4 L460.1,396.1 L462.1,395.7 L464.0,395.3 L466.0,395.0 L467.9,394.6 L469.9,394.2 L471.9,393.8 L473.8,393.4 L475.8,393.0 L477.7,392.5 L479.7,392.1 L481.6,391.7 L483.6,391.2 L485.5,390.8 L487.5,390.3 L489.4,389.9 L491.4,389.4 L493.3,388.9 L495.3,388.5 L497.2,388.0 L499.2,387.5 L501.1,387.0 L503.1,386.6 L505.0,386.1 L506.9,385.6 L508.9,385.1 L510.8,384.6 L512.8,384.1 L514.7,383.6 L516.6,383.1 L518.6,382.7 L520.5,382.2 L522.5,381.7 L524.4,381.2 L526.3,380.7 L528.3,380.2 L530.2,379.6 L532.1,379.1 L534.1,378.6 L536.0,378.1 L537.9,377.6 L539.9,377.1 L541.8,376.6 L543.7,376.1 L545.7,375.5 L547.6,375.0 L549.5,374.5 L551.5,373.9 L553.4,373.4 L555.3,372.9 L557.2,372.3 L559.2,371.8 L561.1,371.2 L563.0,370.7 L564.9,370.1 L566.8,369.6 L568.8,369.0 L570.7,368.5 L572.6,367.9 L574.5,367.3 L576.4,366.7 L578.4,366.2 L580.3,365.6 L582.2,365.0 L584.1,364.4 L586.0,363.8 L587.9,363.2 L589.8,362.6 L591.7,361.9 L593.6,361.3 L595.5,360.6 L597.4,359.9 L599.2,359.2 L601.1,358.5 L603.0,357.8 L604.8,357.0 L606.6,356.2 L608.5,355.4 L610.3,354.6 L612.1,353.7 L613.9,352.9 L615.7,352.0 L617.5,351.2 L619.4,350.3 L621.2,349.5 L623.0,348.6 L624.8,347.8 L626.7,347.0 L628.5,346.2 L630.3,345.5 L632.2,344.8 L634.1,344.1 L636.0,343.4 L637.9,342.7 L639.8,342.1 L641.6,341.4 L643.5,340.8 L645.4,340.1 L647.3,339.5 L649.2,338.9 L651.1,338.2 L653.0,337.6 L654.9,337.0 L656.8,336.3 L658.7,335.7 L660.6,335.1 L662.5,334.5 L664.4,333.9 L666.3,333.3 L668.3,332.7 L670.2,332.1 L672.1,331.6 L674.0,331.0 L675.9,330.5 L677.9,329.9 L679.8,329.4 L681.7,328.9 L683.7,328.4 L685.6,327.9 L687.6,327.5 L689.5,327.0 L691.5,326.6 L693.4,326.2 L695.4,325.8 L697.3,325.4 L699.3,324.9 L701.2,324.5 L703.2,323.9 L705.1,323.4 L707.0,322.7 L708.9,322.0 L710.7,321.2 L712.5,320.3 L714.2,319.3 L715.9,318.2 L717.6,317.2 L719.3,316.1 L721.0,315.1 L722.8,314.3 L724.7,313.5 L726.5,312.8 L728.5,312.2 L730.4,311.6 L732.3,311.1 L734.2,310.6 L736.2,310.0 L738.1,309.5 L740.0,309.0 L741.9,308.3 L743.8,307.7 L745.7,307.0 L747.5,306.2 L749.4,305.4 L751.2,304.6 L753.0,303.8 L754.9,303.0 L756.7,302.1 L758.5,301.3 L760.3,300.4 L762.1,299.6 L763.9,298.8 L765.8,298.0 L767.6,297.2 L769.4,296.4 L771.3,295.7 L773.2,294.9 L775.0,294.3 L776.9,293.6 L778.9,293.0 L780.8,292.5 L782.7,292.0 L784.7,291.6 L786.6,291.2 L788.6,290.9 L790.6,290.7 L792.6,290.6 L794.6,290.5 L796.6,290.4 L798.6,290.4 L800.6,290.5 L802.6,290.5 L804.6,290.6 L806.6,290.6 L808.6,290.6 L810.6,290.6 L812.6,290.6 L814.6,290.5 L816.6,290.4 L818.6,290.2 L820.6,289.9 L822.5,289.5 L824.5,289.1 L826.4,288.6 L828.3,288.0 L830.3,287.4 L832.2,286.9 L834.1,286.3 L836.0,285.7 L837.9,285.1 L839.9,284.6 L841.8,284.1 L843.7,283.6 L845.7,283.1 L847.6,282.7 L849.6,282.3 L851.6,282.0 L853.5,281.7 L855.5,281.5 L857.5,281.4 L859.5,281.3 L861.5,281.2 L863.5,281.1 L865.5,281.1 L867.5,281.1 L869.5,281.1 L871.5,281.2 L873.5,281.3 L875.5,281.5 L877.5,281.7 L879.5,281.9 L881.5,282.2 L883.5,282.5 L885.4,282.8 L887.4,283.2 L889.3,283.7 L891.3,284.2 L893.2,284.8 L895.1,285.4 L897.0,286.0 L898.9,286.7 L900.7,287.4 L902.6,288.1 L904.5,288.8 L906.3,289.5 L908.2,290.2 L910.1,290.9 L912.0,291.6 L913.9,292.2 L915.8,292.7 L917.8,293.2 L919.7,293.6 L921.7,293.8 L923.7,294.0 L925.7,293.9 L927.7,293.7 L929.7,293.4 L931.7,293.0 L933.6,292.6 L935.6,292.2 L937.5,291.8 L939.5,291.4 L941.5,291.0 L943.4,290.7 L945.4,290.4 L947.4,290.1 L949.4,289.9 L951.4,289.7 L953.4,289.5 L955.3,289.2 L957.3,289.0 L959.3,288.8 L961.3,288.6 L963.3,288.4 L965.3,288.1 L967.3,287.9 L969.2,287.6 L971.2,287.2 L973.2,286.9 L975.2,286.5 L977.1,286.2 L979.1,285.8 L981.0,285.4 L983.0,285.0 L985.0,284.6 L986.9,284.2 L988.9,283.8 L990.9,283.4 L992.8,283.0 L994.8,282.7 L996.8,282.4 L998.8,282.1 L1000.7,281.9 L1002.7,281.7 L1004.7,281.6 L1006.7,281.5 L1008.7,281.5 L1010.7,281.5 L1012.7,281.6 L1014.7,281.8 L1016.7,282.0 L1018.7,282.4 L1020.6,282.8 L1022.6,283.3 L1024.5,283.9 L1026.4,284.5 L1028.3,285.2 L1030.1,286.0 L1031.9,286.8 L1033.7,287.6 L1035.5,288.5 L1037.3,289.5 L1039.0,290.5 L1040.8,291.5 L1042.5,292.4 L1044.3,293.3 L1046.1,294.1 L1048.0,294.8 L1049.9,295.4 L1051.8,296.0 L1053.8,296.4 L1055.8,296.8 L1057.7,297.1 L1059.7,297.3 L1061.7,297.5 L1063.7,297.6 L1065.7,297.7 L1067.7,297.8 L1069.7,297.9 L1071.7,298.0 L1073.7,298.1 L1075.7,298.2 L1077.7,298.3 L1079.7,298.4 L1081.7,298.5 L1083.7,298.6 L1085.7,298.8 L1087.7,298.9 L1089.7,299.0 L1091.7,299.2 L1093.7,299.3 L1095.7,299.5 L1097.7,299.6 L1099.7,299.8 L1101.6,300.2 L1103.5,300.9 L1105.2,301.9 L1106.8,303.2 L1108.2,304.6 L1109.6,306.0 L1110.9,307.5 L1112.3,308.9 L1113.7,310.4 L1115.1,311.8 L1116.5,313.2 L1118.0,314.6 L1119.5,315.9 L1120.9,317.4 L1122.2,318.9 L1123.4,320.5 L1124.5,322.1 L1125.5,323.9 L1126.3,325.7 L1127.1,327.5 L1127.8,329.4 L1128.4,331.3 L1128.9,333.2 L1129.4,335.2 L1129.8,337.1 L1130.1,339.1 L1130.4,341.1 L1130.6,343.1 L1130.8,345.1 L1131.0,347.1 L1131.1,349.1 L1131.2,351.1 L1131.4,353.1 L1131.5,355.1 L1131.6,357.1 L1131.8,359.0 L1132.0,361.0 L1132.2,363.0 L1132.5,365.0" stroke="#e00000" stroke-width="3"/><path d="M147.9,575.8 L148.0,573.8 L148.4,571.8 L149.1,570.0 L150.0,568.2 L151.1,566.5 L152.4,565.0 L153.7,563.5 L155.2,562.1 L156.6,560.7 L158.1,559.4 L159.6,558.0 L161.0,556.6 L162.4,555.1 L163.8,553.7 L165.2,552.3 L166.6,550.9 L168.0,549.5 L169.5,548.1 L170.9,546.7 L172.4,545.3 L173.9,544.0 L175.4,542.6 L176.9,541.3 L178.4,540.0 L179.9,538.7 L181.4,537.4 L183.0,536.1 L184.5,534.9 L186.1,533.6 L187.7,532.4 L189.3,531.2 L190.8,529.9 L192.4,528.7 L194.0,527.5 L195.6,526.3 L197.2,525.1 L198.8,523.9 L200.4,522.7 L202.0,521.5 L203.6,520.3 L205.2,519.0 L206.8,517.8 L208.4,516.6 L210.0,515.4 L211.5,514.1 L213.1,512.9 L214.6,511.6 L216.2,510.3 L217.7,509.0 L219.2,507.7 L220.7,506.4 L222.2,505.1 L223.7,503.7 L225.2,502.4 L226.7,501.1 L228.2,499.7 L229.7,498.3 L231.1,497.0 L232.6,495.6 L234.0,494.2 L235.5,492.9 L237.0,491.5 L238.4,490.1 L239.9,488.7 L241.3,487.4 L242.8,486.0 L244.3,484.6 L245.7,483.3 L247.2,481.9 L248.7,480.6 L250.2,479.3 L251.7,478.0 L253.3,476.7 L254.8,475.4 L256.4,474.2 L258.0,472.9 L259.6,471.7 L261.2,470.5 L262.8,469.4 L264.5,468.3 L266.2,467.2 L267.9,466.1 L269.6,465.1 L271.3,464.1 L273.1,463.2 L274.9,462.2 L276.7,461.4 L278.5,460.5 L280.3,459.7 L282.2,459.0 L284.1,458.3 L286.0,457.7 L287.9,457.1 L289.8,456.5 L291.7,456.0 L293.7,455.6 L295.7,455.2 L297.6,454.9 L299.6,454.6 L301.6,454.3 L303.6,454.1 L305.6,453.9 L307.6,453.8 L309.6,453.7 L311.6,453.6 L313.6,453.5 L315.6,453.4 L317.6,453.4 L319.6,453.3 L321.6,453.3 L323.6,453.3 L325.6,453.3 L327.6,453.3 L329.6,453.2 L331.6,453.2 L333.6,453.1 L335.6,453.1 L337.6,453.0 L339.6,452.9 L341.6,452.8 L343.6,452.7 L345.6,452.6 L347.6,452.5 L349.6,452.3 L351.6,452.2 L353.6,452.0 L355.6,451.8 L357.6,451.6 L359.6,451.5 L361.6,451.3 L363.6,451.0 L365.6,450.8 L367.6,450.6 L369.6,450.4 L371.5,450.1 L373.5,449.9 L375.5,449.7 L377.5,449.4 L379.5,449.2 L381.5,449.0 L383.5,448.8 L385.5,448.5 L387.5,448.3 L389.5,448.1 L391.5,447.9 L393.5,447.7 L395.4,447.6 L397.4,447.4 L399.4,447.3 L401.4,447.1 L403.4,447.0 L405.4,446.9 L407.4,446.8 L409.4,446.7 L411.4,446.6 L413.4,446.5 L415.4,446.5 L417.4,446.4 L419.4,446.4 L421.4,446.3 L423.5,446.3 L425.5,446.3 L427.5,446.3 L429.5,446.3 L431.5,446.3 L433.5,446.3 L435.5,446.3 L437.5,446.3 L439.5,446.4 L441.5,446.4 L443.5,446.4 L445.5,446.5 L447.5,446.5 L449.5,446.6 L451.5,446.6 L453.5,446.7 L455.5,446.7 L457.5,446.8 L459.5,446.9 L461.5,446.9 L463.5,447.0 L465.5,447.0 L467.5,447.0 L469.5,447.1 L471.5,447.1 L473.5,447.1 L475.5,447.1 L477.5,447.1 L479.5,447.1 L481.5,447.1 L483.5,447.1 L485.5,447.0 L487.5,447.0 L489.5,446.9 L491.5,446.8 L493.5,446.7 L495.5,446.6 L497.5,446.5 L499.5,446.4 L501.5,446.2 L503.5,446.1 L505.5,446.0 L507.5,445.8 L509.5,445.7 L511.5,445.5 L513.5,445.4 L515.5,445.3 L517.5,445.2 L519.5,445.1 L521.5,445.0 L523.5,444.9 L525.5,444.9 L527.5,444.9 L529.5,444.9 L531.5,444.9 L533.5,445.0 L535.5,445.1 L537.5,445.2 L539.5,445.4 L541.5,445.6 L543.5,445.8 L545.5,446.0 L547.5,446.2 L549.5,446.4 L551.5,446.6 L553.5,446.8 L555.5,446.9 L557.5,447.0 L559.5,447.0 L561.5,447.0 L563.5,447.0 L565.5,447.0 L567.5,446.9 L569.5,446.9 L571.5,446.8 L573.5,446.8 L575.5,446.7 L577.5,446.7 L579.5,446.7 L581.5,446.7 L583.5,446.8 L585.5,446.9 L587.5,447.0 L589.5,447.3 L591.5,447.5 L593.5,447.8 L595.5,448.1 L597.4,448.5 L599.4,448.8 L601.4,449.1 L603.4,449.4 L605.4,449.6 L607.4,449.8 L609.4,450.0 L611.4,450.0 L613.4,450.0 L615.4,450.0 L617.4,449.9 L619.4,449.8 L621.4,449.6 L623.3,449.4 L625.3,449.2 L627.3,448.9 L629.3,448.7 L631.3,448.4 L633.3,448.1 L635.2,447.8 L637.2,447.5 L639.2,447.1 L641.2,446.8 L643.2,446.6 L645.2,446.3 L647.1,446.1 L649.1,445.9 L651.1,445.7 L653.1,445.6 L655.1,445.5 L657.1,445.5 L659.1,445.4 L661.1,445.4 L663.1,445.4 L665.2,445.4 L667.2,445.5 L669.2,445.6 L671.2,445.7 L673.2,445.8 L675.2,445.9 L677.2,446.0 L679.1,446.2 L681.1,446.4 L683.1,446.5 L685.1,446.7 L687.1,446.9 L689.1,447.1 L691.1,447.3 L693.1,447.5 L695.1,447.7 L697.1,447.9 L699.1,448.1 L701.1,448.3 L703.1,448.5 L705.1,448.7 L707.1,448.8 L709.1,449.0 L711.1,449.1 L713.1,449.2 L715.1,449.2 L717.1,449.3 L719.1,449.3 L721.1,449.2 L723.1,449.2 L725.1,449.0 L727.1,448.9 L729.1,448.7 L731.0,448.4 L733.0,448.1 L735.0,447.8 L737.0,447.6 L739.0,447.3 L741.0,447.2 L743.0,447.0 L745.0,446.9 L747.0,446.9 L749.0,446.9 L751.0,446.9 L753.0,446.9 L755.0,446.9 L757.0,447.0 L759.0,447.0 L761.0,447.0 L763.0,447.1 L765.0,447.1 L767.0,447.1 L769.0,447.1 L771.0,447.1 L773.0,447.1 L775.0,447.1 L777.0,447.1 L779.0,447.1 L781.0,447.1 L783.0,447.1 L785.0,447.1 L787.0,447.1 L789.0,447.2 L791.0,447.2 L793.0,447.2 L795.1,447.3 L797.1,447.4 L799.1,447.5 L801.1,447.6 L803.0,447.8 L805.0,448.0 L807.0,448.2 L809.0,448.4 L811.0,448.7 L813.0,449.0 L815.0,449.3 L816.9,449.6 L818.9,450.0 L820.9,450.3 L822.9,450.6 L824.8,450.9 L826.8,451.2 L828.8,451.3 L830.8,451.5 L832.8,451.6 L834.8,451.6 L836.8,451.7 L838.8,451.7 L840.8,451.7 L842.8,451.6 L844.8,451.6 L846.8,451.5 L848.9,451.5 L850.9,451.4 L852.9,451.4 L854.9,451.4 L856.9,451.3 L858.9,451.3 L860.9,451.3 L862.9,451.3 L864.9,451.3 L866.9,451.3 L868.9,451.3 L870.9,451.4 L872.9,451.4 L874.9,451.4 L876.9,451.5 L878.9,451.6 L880.9,451.6 L882.9,451.7 L884.9,451.8 L886.9,451.9 L888.9,452.0 L890.9,452.2 L892.9,452.3 L894.9,452.5 L896.9,452.6 L898.9,452.8 L900.9,453.0 L902.9,453.2 L904.9,453.4 L906.8,453.6 L908.8,453.9 L910.8,454.1 L912.8,454.4 L914.8,454.7 L916.8,455.0 L918.7,455.3 L920.7,455.7 L922.7,456.0 L924.7,456.3 L926.6,456.7 L928.6,457.1 L930.6,457.4 L932.5,457.8 L934.5,458.1 L936.5,458.5 L938.5,458.8 L940.4,459.2 L942.4,459.5 L944.4,459.8 L946.4,460.0 L948.4,460.3 L950.4,460.5 L952.4,460.7 L954.4,460.9 L956.3,461.1 L958.3,461.2 L960.3,461.3 L962.3,461.4 L964.3,461.5 L966.3,461.6 L968.4,461.6 L970.4,461.7 L972.4,461.8 L974.4,461.9 L976.4,462.0 L978.4,462.1 L980.4,462.2 L982.4,462.3 L984.4,462.5 L986.3,462.7 L988.3,462.9 L990.3,463.1 L992.3,463.4 L994.3,463.7 L996.3,464.0 L998.3,464.3 L1000.2,464.6 L1002.2,465.0 L1004.2,465.3 L1006.1,465.7 L1008.1,466.0 L1010.1,466.4 L1012.1,466.7 L1014.0,467.0 L1016.0,467.4 L1018.0,467.7 L1020.0,468.0 L1022.0,468.3 L1023.9,468.5 L1025.9,468.7 L1027.9,469.0 L1029.9,469.2 L1031.9,469.3 L1033.9,469.5 L1035.9,469.7 L1037.9,469.9 L1039.9,470.1 L1041.9,470.4 L1043.9,470.7 L1045.8,471.0 L1047.8,471.3 L1049.8,471.7 L1051.7,472.2 L1053.7,472.7 L1055.6,473.2 L1057.5,473.7 L1059.5,474.2 L1061.4,474.7 L1063.4,475.2 L1065.3,475.7 L1067.2,476.2 L1069.2,476.7 L1071.1,477.1 L1073.1,477.7 L1075.0,478.2 L1076.9,478.6 L1078.9,479.1 L1080.9,479.4 L1082.9,479.7 L1084.9,479.8 L1086.9,479.8 L1088.9,479.9 L1090.9,479.9 L1092.9,480.0 L1094.9,480.2 L1096.8,480.6 L1098.7,481.2 L1100.6,481.9 L1102.5,482.7 L1104.3,483.5 L1106.2,484.2 L1108.0,484.9 L1109.9,485.7 L1111.7,486.5 L1113.5,487.5 L1115.1,488.7 L1116.6,490.0 L1117.9,491.5 L1119.1,493.1 L1120.1,494.8 L1120.9,496.7 L1121.6,498.5 L1122.2,500.5 L1122.7,502.4 L1123.1,504.4 L1123.4,506.3 L1123.7,508.3 L1124.0,510.3" stroke="#0000c8" stroke-width="2"/><path d="M147.9,614.0 L148.1,612.0 L148.7,610.1 L149.7,608.3 L150.8,606.7 L152.2,605.3 L153.7,603.9 L155.2,602.6 L156.7,601.3 L158.2,600.0 L159.7,598.7 L161.3,597.4 L162.8,596.1 L164.4,594.9 L166.0,593.7 L167.6,592.5 L169.2,591.4 L170.9,590.2 L172.6,589.1 L174.2,588.1 L175.9,587.0 L177.6,585.9 L179.4,584.9 L181.1,583.9 L182.8,582.8 L184.5,581.8 L186.2,580.8 L187.9,579.8 L189.7,578.8 L191.4,577.7 L193.1,576.7 L194.8,575.6 L196.5,574.5 L198.1,573.5 L199.8,572.4 L201.5,571.3 L203.1,570.1 L204.8,569.0 L206.5,567.9 L208.1,566.7 L209.7,565.6 L211.4,564.4 L213.0,563.3 L214.6,562.1 L216.2,560.9 L217.8,559.7 L219.4,558.5 L221.0,557.2 L222.5,556.0 L224.1,554.8 L225.7,553.5 L227.2,552.3 L228.8,551.0 L230.3,549.7 L231.9,548.4 L233.4,547.1 L234.9,545.8 L236.4,544.5 L237.9,543.2 L239.4,541.9 L240.9,540.6 L242.4,539.2 L243.9,537.9 L245.4,536.5 L246.8,535.2 L248.3,533.9 L249.8,532.5 L251.3,531.2 L252.8,529.9 L254.3,528.6 L255.9,527.3 L257.4,526.0 L259.0,524.7 L260.5,523.5 L262.1,522.3 L263.7,521.1 L265.3,519.9 L267.0,518.7 L268.6,517.6 L270.3,516.5 L271.9,515.4 L273.6,514.3 L275.4,513.3 L277.1,512.3 L278.8,511.3 L280.6,510.4 L282.4,509.4 L284.1,508.5 L285.9,507.7 L287.8,506.8 L289.6,506.0 L291.4,505.2 L293.3,504.5 L295.1,503.7 L297.0,503.0 L298.9,502.3 L300.8,501.7 L302.7,501.0 L304.6,500.4 L306.5,499.8 L308.4,499.2 L310.3,498.7 L312.2,498.1 L314.1,497.5 L316.1,497.0 L318.0,496.4 L319.9,495.9 L321.8,495.4 L323.8,494.8 L325.7,494.3 L327.6,493.7 L329.6,493.2 L331.5,492.6 L333.4,492.1 L335.3,491.5 L337.2,490.9 L339.1,490.3 L341.0,489.7 L343.0,489.1 L344.9,488.5 L346.8,487.9 L348.7,487.3 L350.6,486.6 L352.5,486.0 L354.4,485.4 L356.2,484.7 L358.1,484.1 L360.0,483.4 L361.9,482.7 L363.8,482.1 L365.7,481.4 L367.6,480.7 L369.5,480.1 L371.3,479.4 L373.2,478.7 L375.1,478.0 L377.0,477.3 L378.9,476.7 L380.7,476.0 L382.6,475.3 L384.5,474.6 L386.4,473.9 L388.3,473.2 L390.1,472.5 L392.0,471.9 L393.9,471.2 L395.8,470.5 L397.7,469.8 L399.5,469.2 L401.4,468.5 L403.3,467.8 L405.2,467.2 L407.1,466.5 L409.0,465.9 L410.9,465.2 L412.8,464.6 L414.7,463.9 L416.6,463.3 L418.5,462.7 L420.4,462.1 L422.3,461.5 L424.2,460.9 L426.1,460.3 L428.0,459.7 L429.9,459.2 L431.9,458.6 L433.8,458.0 L435.7,457.5 L437.6,457.0 L439.6,456.4 L441.5,455.9 L443.4,455.4 L445.4,454.9 L447.3,454.3 L449.2,453.8 L451.2,453.3 L453.1,452.8 L455.0,452.3 L457.0,451.8 L458.9,451.3 L460.8,450.8 L462.8,450.3 L464.7,449.8 L466.6,449.3 L468.6,448.8 L470.5,448.3 L472.4,447.7 L474.4,447.2 L476.3,446.7 L478.2,446.2 L480.2,445.6 L482.1,445.1 L484.0,444.5 L485.9,443.9 L487.8,443.4 L489.8,442.8 L491.7,442.2 L493.6,441.6 L495.5,441.0 L497.4,440.3 L499.3,439.7 L501.1,439.0 L503.0,438.3 L504.9,437.7 L506.8,437.0 L508.7,436.2 L510.5,435.5 L512.4,434.8 L514.3,434.1 L516.1,433.4 L518.0,432.7 L519.9,432.0 L521.8,431.4 L523.7,430.7 L525.6,430.2 L527.5,429.6 L529.5,429.1 L531.4,428.7 L533.4,428.3 L535.4,428.0 L537.3,427.8 L539.3,427.5 L541.3,427.3 L543.3,427.0 L545.3,426.7 L547.2,426.3 L549.2,425.8 L551.1,425.3 L553.0,424.8 L555.0,424.2 L556.9,423.6 L558.8,423.0 L560.7,422.3 L562.5,421.7 L564.4,421.0 L566.3,420.4 L568.2,419.7 L570.1,419.1 L572.0,418.5 L573.9,417.9 L575.9,417.4 L577.8,417.0 L579.8,416.5 L581.7,416.2 L583.7,415.9 L585.7,415.6 L587.7,415.3 L589.7,415.1 L591.7,414.9 L593.7,414.7 L595.6,414.5 L597.6,414.3 L599.6,414.1 L601.6,413.9 L603.6,413.7 L605.6,413.4 L607.6,413.1 L609.5,412.7 L611.5,412.3 L613.4,411.9 L615.4,411.4 L617.3,410.8 L619.2,410.1 L621.0,409.4 L622.9,408.6 L624.7,407.8 L626.5,406.9 L628.3,406.1 L630.1,405.2 L631.9,404.3 L633.7,403.4 L635.5,402.5 L637.3,401.6 L639.1,400.8 L640.9,400.0 L642.8,399.2 L644.6,398.5 L646.5,397.8 L648.4,397.1 L650.3,396.4 L652.2,395.8 L654.1,395.2 L656.0,394.6 L657.9,394.0 L659.8,393.5 L661.8,393.0 L663.7,392.5 L665.6,392.0 L667.6,391.6 L669.5,391.1 L671.5,390.7 L673.5,390.3 L675.4,389.9 L677.4,389.5 L679.3,389.1 L681.3,388.7 L683.3,388.4 L685.2,388.0 L687.2,387.6 L689.2,387.3 L691.1,386.9 L693.1,386.6 L695.1,386.2 L697.1,385.9 L699.0,385.5 L701.0,385.2 L703.0,384.8 L704.9,384.4 L706.9,384.1 L708.9,383.7 L710.8,383.3 L712.8,382.8 L714.7,382.4 L716.7,381.9 L718.6,381.4 L720.5,380.8 L722.4,380.2 L724.3,379.6 L726.2,378.9 L728.0,378.1 L729.9,377.4 L731.7,376.5 L733.5,375.7 L735.3,374.8 L737.2,374.0 L739.0,373.2 L740.8,372.5 L742.7,371.8 L744.6,371.1 L746.5,370.5 L748.4,369.9 L750.4,369.4 L752.3,368.9 L754.2,368.4 L756.2,368.0 L758.1,367.5 L760.1,367.0 L762.0,366.6 L764.0,366.1 L765.9,365.7 L767.9,365.2 L769.8,364.7 L771.7,364.2 L773.6,363.6 L775.6,363.1 L777.5,362.5 L779.4,362.0 L781.3,361.4 L783.3,360.9 L785.2,360.3 L787.1,359.8 L789.1,359.3 L791.0,358.8 L792.9,358.3 L794.9,357.8 L796.8,357.4 L798.8,357.0 L800.7,356.6 L802.7,356.2 L804.7,355.9 L806.7,355.6 L808.7,355.4 L810.6,355.2 L812.6,355.0 L814.6,354.9 L816.6,354.8 L818.6,354.8 L820.6,354.7 L822.6,354.6 L824.6,354.5 L826.6,354.3 L828.6,354.2 L830.6,354.0 L832.6,353.7 L834.6,353.3 L836.5,352.9 L838.5,352.4 L840.4,351.9 L842.3,351.3 L844.2,350.6 L846.1,349.9 L847.9,349.2 L849.8,348.5 L851.7,347.8 L853.5,347.1 L855.4,346.4 L857.3,345.7 L859.2,345.1 L861.1,344.5 L863.0,343.9 L865.0,343.4 L866.9,343.0 L868.9,342.6 L870.8,342.3 L872.8,341.9 L874.8,341.6 L876.8,341.3 L878.7,341.0 L880.7,340.7 L882.7,340.3 L884.7,339.9 L886.6,339.6 L888.6,339.2 L890.5,338.8 L892.5,338.4 L894.5,338.0 L896.4,337.6 L898.4,337.2 L900.4,336.9 L902.3,336.6 L904.3,336.4 L906.3,336.1 L908.3,335.9 L910.3,335.7 L912.3,335.6 L914.3,335.5 L916.3,335.4 L918.3,335.4 L920.3,335.4 L922.3,335.4 L924.3,335.4 L926.3,335.5 L928.3,335.6 L930.3,335.7 L932.3,335.9 L934.3,336.0 L936.3,336.1 L938.3,336.2 L940.3,336.3 L942.3,336.3 L944.3,336.2 L946.3,336.1 L948.3,335.8 L950.2,335.6 L952.2,335.3 L954.2,334.9 L956.1,334.5 L958.1,334.1 L960.1,333.7 L962.0,333.2 L964.0,332.8 L965.9,332.3 L967.9,331.9 L969.8,331.5 L971.8,331.1 L973.7,330.8 L975.7,330.5 L977.7,330.2 L979.7,330.0 L981.7,329.8 L983.7,329.6 L985.7,329.5 L987.7,329.4 L989.7,329.4 L991.7,329.3 L993.7,329.3 L995.7,329.3 L997.7,329.3 L999.7,329.4 L1001.7,329.4 L1003.7,329.5 L1005.7,329.5 L1007.7,329.6 L1009.7,329.7 L1011.7,329.7 L1013.7,329.8 L1015.7,329.9 L1017.7,329.9 L1019.7,329.9 L1021.7,330.0 L1023.7,330.0 L1025.7,330.0 L1027.7,330.0 L1029.7,329.9 L1031.7,329.8 L1033.7,329.7 L1035.7,329.6 L1037.7,329.5 L1039.7,329.3 L1041.7,329.2 L1043.6,329.0 L1045.6,328.9 L1047.6,328.9 L1049.6,329.0 L1051.6,329.1 L1053.6,329.4 L1055.6,329.7 L1057.5,330.2 L1059.5,330.7 L1061.4,331.2 L1063.3,331.8 L1065.2,332.3 L1067.2,332.9 L1069.1,333.5 L1071.0,334.1 L1072.9,334.7 L1074.8,335.2 L1076.8,335.6 L1078.8,335.9 L1080.8,336.1 L1082.8,336.2 L1084.8,336.2 L1086.7,335.9 L1088.7,335.5 L1090.6,334.9 L1092.5,334.3 L1094.5,334.0 L1096.5,334.1 L1098.3,334.9 L1100.0,335.9 L1101.7,337.1 L1103.4,338.1 L1105.2,339.0 L1107.0,339.8 L1108.8,340.7 L1110.6,341.6 L1112.3,342.7 L1113.8,344.0 L1115.2,345.4 L1116.4,347.0 L1117.6,348.6 L1118.5,350.4 L1119.4,352.2 L1120.1,354.0 L1120.8,355.9 L1121.3,357.8 L1121.8,359.8 L1122.1,361.8 L1122.4,363.7 L1122.6,365.7 L1122.8,367.7 L1122.9,369.7 L1123.1,371.7 L1123.2,373.7 L1123.3,375.7 L1123.4,377.7 L1123.5,379.7 L1123.7,381.7" stroke="#c40c0c" stroke-width="2"/></g></svg>
</body></html>
